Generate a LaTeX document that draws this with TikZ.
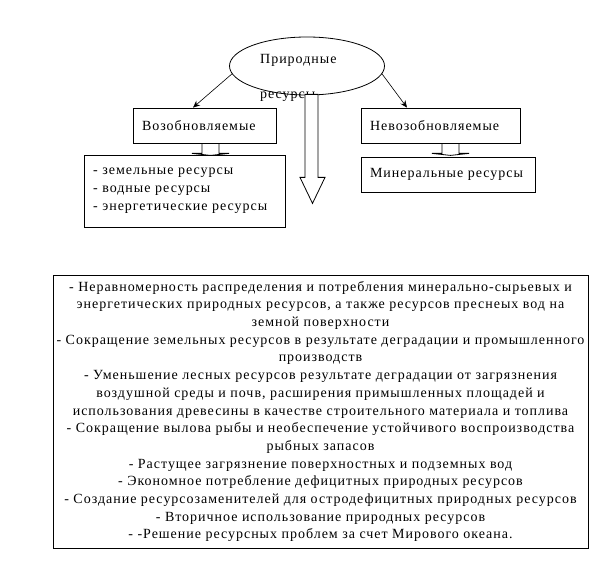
\documentclass[tikz,border=0pt]{standalone}
\usepackage{fontspec}
\setmainfont[LetterSpace=7]{Liberation Serif}
\usetikzlibrary{shapes.geometric, arrows.meta, positioning, calc}

\begin{document}
\begin{tikzpicture}[x=1pt, y=-1pt,
  rbox/.style={draw, line width=0.8pt, minimum height=35, inner xsep=9pt, inner ysep=0pt, align=left, font=\fontsize{14}{18}\selectfont},
  plain/.style={inner sep=0pt, font=\fontsize{14}{18}\selectfont}
]
  \useasboundingbox (0,0) rectangle (613,577);

  % top ellipse
  \node[ellipse, draw, line width=0.8pt, minimum width=155, minimum height=58, inner sep=0pt] (nature) at (307,66) {};
  \node[plain, anchor=west] (naturetop) at (260,60) {Природные};
  \node[plain, anchor=west] (naturebot) at (260,97) {ресурсы};

  % two branches
  \node[rbox, minimum width=143, text width=125] (renew) at (204.5,125.5) {Возобновляемые};
  \node[rbox, minimum width=159, text width=141] (nonrenew) at (440.5,125.5) {Невозобновляемые};
  \node[rbox, minimum width=201, minimum height=72, text width=183] (renewlist) at (184.5,191) {- земельные ресурсы\\- водные ресурсы\\- энергетические ресурсы};
  \node[rbox, minimum width=174, text width=156] (mineral) at (448,174.5) {Минеральные ресурсы};

  \draw[-{Stealth[length=7pt, width=6pt]}, line width=0.6pt] (nature.186) -- ($(renew.north)+(-11.5,0)$);
  \draw[-{Stealth[length=7pt, width=6pt]}, line width=0.6pt] (nature.354) -- ($(nonrenew.north)+(-33.5,0)$);

  % flat block arrows between boxes
  \foreach \n/\d in {renew/6, nonrenew/10}
    \draw[line width=0.8pt] (\n.south) ++(\d-8.5,0) -- ++(0,10) -- ++(-10,0) -- ++(18.5,2) -- ++(18.5,-2) -- ++(-10,0) -- ++(0,-10);

  % big hollow arrow
  \draw[fill=white, line width=0.8pt] (nature.south) ++(-2,-1) -- ++(0,83) -- ++(-5,0) -- ++(12.5,26) -- ++(12.5,-26) -- ++(-7,0) -- ++(0,-83) -- cycle;

  % problems box
  \node[draw, line width=0.8pt, minimum width=535, minimum height=273, inner sep=0pt, align=center, font=\fontsize{14}{17.7}\selectfont] (problems) at (320.5,411.5) {%
    - Неравномерность распределения и потребления минерально-сырьевых и\\
    энергетических природных ресурсов, а также ресурсов преснеых вод на\\
    земной поверхности\\
    - Сокращение земельных ресурсов в результате деградации и промышленного\\
    производств\\
    - Уменьшение лесных ресурсов результате деградации от загрязнения\\
    воздушной среды и почв, расширения примышленных площадей и\\
    использования древесины в качестве строительного материала и топлива\\
    - Сокращение вылова рыбы и необеспечение устойчивого воспроизводства\\
    рыбных запасов\\
    - Растущее загрязнение поверхностных и подземных вод\\
    - Экономное потребление дефицитных природных ресурсов\\
    - Создание ресурсозаменителей для остродефицитных природных ресурсов\\
    - Вторичное использование природных ресурсов\\
    - -Решение ресурсных проблем за счет Мирового океана.};
\end{tikzpicture}
\end{document}
